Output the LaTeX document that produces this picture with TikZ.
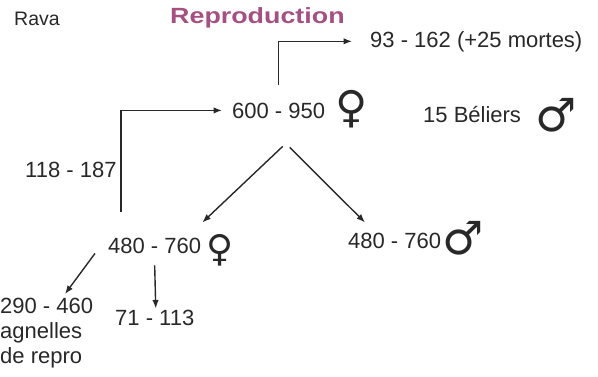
\documentclass[tikz,border=0pt]{standalone}
\usepackage{fontspec}
\setmainfont{Liberation Sans}
\newfontfamily\symfont{DejaVu Sans}
\usetikzlibrary{arrows.meta}
\definecolor{ink}{RGB}{40,40,40}
\definecolor{repro}{RGB}{165,80,130}
\begin{document}
\begin{tikzpicture}[x=1pt,y=1pt,
  txt/.style={inner sep=0pt, text=ink, font=\fontsize{22}{25}\selectfont, anchor=base west},
  sym/.style={inner sep=0pt, text=ink, anchor=center, font=\symfont\fontsize{#1}{#1}\selectfont},
  arr/.style={draw=ink, line width=1.4pt, -{Latex[length=8.5pt,width=6.5pt]}},
]
\useasboundingbox (0,0) rectangle (598,-376);
\clip (0,0) rectangle (598,-376);
\node[txt, font=\fontsize{19.5}{22}\selectfont] (rava) at (14,-25) {Rava};
\node[txt, text=repro, font=\bfseries\fontsize{22}{24}\selectfont] (title) at (170,-23) {\scalebox{1.22}[1]{Reproduction}};
\node[txt] (n93) at (370,-47) {93 - 162 (+25 mortes)};
\node[txt] (n600) at (232,-118) {600 - 950};
\node[sym=44] (f600) at (352,-109) {♀};
\node[txt] (bel) at (423,-122) {15 Béliers};
\node[sym=46] (mbel) at (556,-115) {♂};
\node[txt] (n118) at (25,-177) {118 - 187};
\node[txt] (l480) at (108,-253) {480 - 760};
\node[sym=37] (lf) at (220,-250) {♀};
\node[txt] (r480) at (348,-248) {480 - 760};
\node[sym=46] (rm) at (463,-238) {♂};
\node[txt, anchor=north west, align=left] (n290) at (0,-298) {290 - 460\\agnelles\\de repro};
\node[txt] (n71) at (115,-325) {71 - 113};
\draw[arr] ([xshift=13pt,yshift=25pt]l480.north west) |- ([xshift=-10pt]n600.west);
\draw[arr] ([yshift=17pt]n600.north) |- ([xshift=-18pt]n93.west);
\draw[arr] ([xshift=4pt,yshift=-28pt]n600.south) -- ([xshift=1pt,yshift=15pt]l480.north east);
\draw[arr] ([xshift=11pt,yshift=-29pt]n600.south) -- ([xshift=17pt,yshift=10pt]r480.north west);
\draw[arr] ([xshift=-13pt]l480.south west) -- ([xshift=65pt,yshift=4pt]n290.north west);
\draw[arr] ([yshift=-12pt]l480.south) -- ([xshift=1pt,yshift=1pt]n71.north);
\end{tikzpicture}
\end{document}
